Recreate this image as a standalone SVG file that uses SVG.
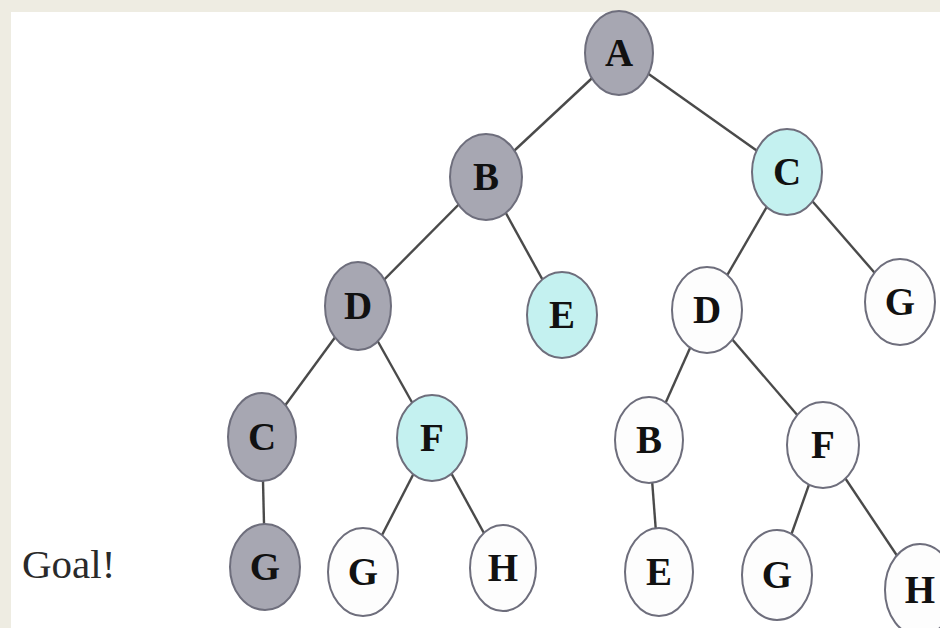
<svg xmlns="http://www.w3.org/2000/svg" width="940" height="628" viewBox="0 0 940 628">
<style>
.n ellipse{stroke:#6e6e7c;stroke-width:2}
.g ellipse{fill:#a7a7b2}
.c ellipse{fill:#c4f1f0}
.w ellipse{fill:#fdfdfd}
.n text{font-family:"Liberation Serif","Times New Roman",serif;font-weight:bold;font-size:39px;fill:#111111;text-anchor:middle}
#edges line{stroke:#4a4a4a;stroke-width:2.4}
</style>
<rect width="940" height="628" fill="#eeece2"/>
<rect x="11" y="12" width="929" height="616" fill="#ffffff"/>
<g id="edges">
<line x1="619" y1="53" x2="486" y2="177"/>
<line x1="619" y1="53" x2="787" y2="172"/>
<line x1="486" y1="177" x2="358" y2="306"/>
<line x1="486" y1="177" x2="562" y2="315"/>
<line x1="787" y1="172" x2="707" y2="310"/>
<line x1="787" y1="172" x2="900" y2="302"/>
<line x1="358" y1="306" x2="262" y2="437"/>
<line x1="358" y1="306" x2="432" y2="438"/>
<line x1="707" y1="310" x2="649" y2="440"/>
<line x1="707" y1="310" x2="823" y2="445"/>
<line x1="262" y1="437" x2="265" y2="567"/>
<line x1="432" y1="438" x2="363" y2="572"/>
<line x1="432" y1="438" x2="503" y2="568"/>
<line x1="649" y1="440" x2="659" y2="572"/>
<line x1="823" y1="445" x2="777" y2="575"/>
<line x1="823" y1="445" x2="920" y2="590"/>
</g>
<g id="A" class="n g"><ellipse cx="619" cy="53" rx="34" ry="42"/><text x="619" y="66">A</text></g>
<g id="B" class="n g"><ellipse cx="486" cy="177" rx="36" ry="43"/><text x="486" y="190">B</text></g>
<g id="C" class="n c"><ellipse cx="787" cy="172" rx="35" ry="43"/><text x="787" y="185">C</text></g>
<g id="D1" class="n g"><ellipse cx="358" cy="306" rx="33" ry="44"/><text x="358" y="319">D</text></g>
<g id="E1" class="n c"><ellipse cx="562" cy="315" rx="35" ry="43"/><text x="562" y="328">E</text></g>
<g id="D2" class="n w"><ellipse cx="707" cy="310" rx="35" ry="43"/><text x="707" y="323">D</text></g>
<g id="G1" class="n w"><ellipse cx="900" cy="302" rx="35" ry="43"/><text x="900" y="315">G</text></g>
<g id="C2" class="n g"><ellipse cx="262" cy="437" rx="34" ry="44"/><text x="262" y="450">C</text></g>
<g id="F1" class="n c"><ellipse cx="432" cy="438" rx="35" ry="43"/><text x="432" y="451">F</text></g>
<g id="B2" class="n w"><ellipse cx="649" cy="440" rx="34" ry="43"/><text x="649" y="453">B</text></g>
<g id="F2" class="n w"><ellipse cx="823" cy="445" rx="36" ry="43"/><text x="823" y="458">F</text></g>
<g id="G2" class="n g"><ellipse cx="265" cy="567" rx="35" ry="43"/><text x="265" y="580">G</text></g>
<g id="G3" class="n w"><ellipse cx="363" cy="572" rx="35" ry="44"/><text x="363" y="585">G</text></g>
<g id="H1" class="n w"><ellipse cx="503" cy="568" rx="33" ry="43"/><text x="503" y="581">H</text></g>
<g id="E2" class="n w"><ellipse cx="659" cy="572" rx="34" ry="44"/><text x="659" y="585">E</text></g>
<g id="G4" class="n w"><ellipse cx="777" cy="575" rx="35" ry="45"/><text x="777" y="588">G</text></g>
<g id="H2" class="n w"><ellipse cx="920" cy="590" rx="35" ry="46"/><text x="920" y="603">H</text></g>
<text x="22" y="578" font-family="Liberation Serif,'Times New Roman',serif" font-size="41" fill="#2a2a2a">Goal!</text>
</svg>
